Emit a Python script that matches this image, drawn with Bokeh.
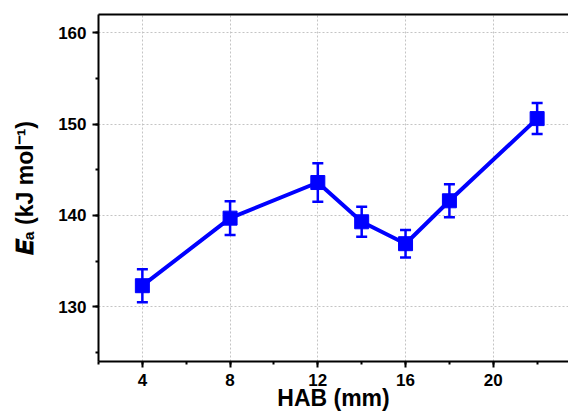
from bokeh.plotting import figure
from bokeh.models import (ColumnDataSource, Whisker, TeeHead, Range1d, LinearAxis,
                          SingleIntervalTicker, FixedTicker)
from bokeh.embed import file_html
from bokeh.resources import INLINE

# ---- data ----
hab = [4, 8, 12, 14, 16, 18, 22]
ea = [132.3, 139.7, 143.6, 139.3, 136.9, 141.6, 150.6]
err = [1.8, 1.85, 2.1, 1.65, 1.5, 1.8, 1.7]

x_title = "HAB (mm)"
y_title = "\U0001D46C\u2090 (kJ mol\u207B\u00B9)"

BLUE = "#0000FF"
FONT = "Liberation Sans"

X0, X1 = 2.0, 23.43
Y0, Y1 = 124.0, 162.0
W, H = 568, 414

src = ColumnDataSource(dict(
    x=hab, y=ea,
    lower=[v - e for v, e in zip(ea, err)],
    upper=[v + e for v, e in zip(ea, err)],
))

p = figure(width=W, height=H, output_backend="svg", toolbar_location=None,
           x_range=Range1d(X0, X1), y_range=Range1d(Y0, Y1),
           min_border_left=98, min_border_right=0, min_border_top=14,
           min_border_bottom=53)
p.outline_line_color = None
p.background_fill_color = "white"
p.border_fill_color = "white"

xt = SingleIntervalTicker(interval=4, num_minor_ticks=2)
yt = SingleIntervalTicker(interval=10, num_minor_ticks=2)
p.xaxis.ticker = xt
p.yaxis.ticker = yt
p.xgrid.ticker = xt
p.ygrid.ticker = yt

for ax in (p.xaxis[0], p.yaxis[0]):
    ax.axis_line_width = 2
    ax.axis_line_color = "black"
    ax.major_tick_line_width = 2
    ax.minor_tick_line_width = 2
    ax.major_tick_out = 6
    ax.major_tick_in = 0
    ax.minor_tick_out = 3
    ax.minor_tick_in = 0
    ax.major_label_text_font = FONT
    ax.major_label_text_font_style = "bold"
    ax.major_label_text_font_size = "17px"
    ax.major_label_text_color = "black"
    ax.axis_label_text_font = FONT
    ax.axis_label_text_font_style = "bold"
    ax.axis_label_text_color = "black"
p.xaxis.major_label_standoff = 6
p.yaxis.major_label_standoff = 6

p.yaxis.axis_label = y_title
p.yaxis.axis_label_text_font_size = "23px"
p.yaxis.axis_label_standoff = 17

p.xaxis.axis_label = x_title
p.xaxis.axis_label_text_font_size = "23px"
p.xaxis.axis_label_standoff = -4

top = LinearAxis(ticker=FixedTicker(ticks=[]), axis_line_width=2,
                 major_tick_line_color=None, minor_tick_line_color=None,
                 major_label_standoff=0)
p.add_layout(top, "above")

for g in (p.xgrid[0], p.ygrid[0]):
    g.grid_line_color = "#c4c4c4"
    g.grid_line_dash = "2 2"
    g.grid_line_width = 1

p.line("x", "y", source=src, line_color=BLUE, line_width=4)
w = Whisker(base="x", lower="lower", upper="upper", source=src,
            line_color=BLUE, line_width=2.5,
            upper_head=TeeHead(size=11, line_color=BLUE, line_width=2.5),
            lower_head=TeeHead(size=11, line_color=BLUE, line_width=2.5))
p.add_layout(w)
p.scatter("x", "y", source=src, marker="square", size=14, fill_color=BLUE,
          line_color=BLUE)

open("out.html", "w").write(file_html(p, INLINE))
